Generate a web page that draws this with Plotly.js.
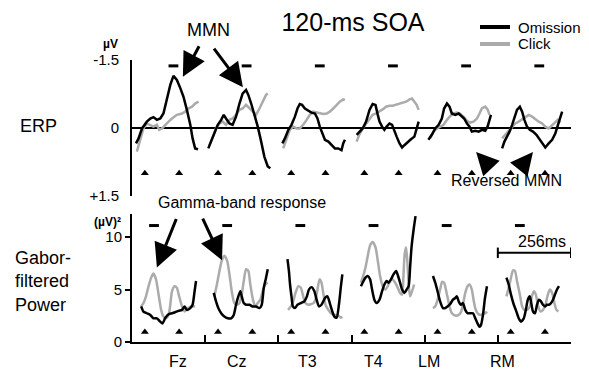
<!DOCTYPE html>
<html><head><meta charset="utf-8">
<script src="https://cdn.plot.ly/plotly-3.0.1.min.js"></script>
<style>html,body{margin:0;padding:0;background:#fff}#chart{width:589px;height:372px}</style>
</head><body><div id="chart"></div>
<script>
// ---------- DATA ----------
const electrodes = ['Fz','Cz','T3','T4','LM','RM'];
const stimTimes = [0, 120];          // ms, stimulus onsets within each epoch
const erpSigTimes = [100,100,100,100,100,100];
const gaborSigTimes = [32,32,32,32,32,32];
const erpTicks = ['-1.5','0','+1.5'];
const gaborTicks = ['0','5','10'];

// ERP  [time ms, amplitude µV]
const fzErpOm = [[-31,0.34],[-22,0.23],[-10,0.01],[7,-0.14],[19,-0.21],[30,-0.24],[42,-0.18],[54,-0.21],[65,-0.32],[77,-0.62],[89,-0.95],[100,-1.15],[112,-1.06],[124,-0.88],[135,-0.69],[147,-0.40],[159,-0.07],[167,0.23],[176,0.45],[186,0.47]];
const fzErpCl = [[-28,0.52],[-16,0.26],[-5,0.01],[7,-0.10],[19,-0.07],[30,-0.03],[42,-0.07],[50,0.04],[60,0.01],[71,-0.07],[83,-0.14],[95,-0.21],[112,-0.29],[130,-0.32],[141,-0.36],[153,-0.43],[165,-0.47],[176,-0.54],[188,-0.58]];
const czErpOm = [[-34,0.45],[-25,0.30],[-13,0.12],[-1,-0.07],[11,-0.18],[20,-0.29],[28,-0.21],[40,-0.10],[51,-0.07],[63,-0.25],[75,-0.54],[86,-0.76],[98,-0.84],[106,-0.73],[116,-0.54],[127,-0.32],[139,-0.03],[151,0.30],[162,0.63],[174,0.85],[183,0.89]];
const czErpCl = [[-30,0.38],[-19,0.19],[-7,0.01],[5,-0.10],[16,-0.14],[28,-0.07],[40,-0.18],[51,-0.21],[63,-0.29],[75,-0.40],[86,-0.43],[98,-0.51],[110,-0.43],[121,-0.36],[133,-0.29],[145,-0.43],[156,-0.58],[168,-0.73],[174,-0.76]];
const t3ErpOm = [[-31,0.34],[-22,0.23],[-10,0.04],[1,-0.07],[13,-0.25],[22,-0.43],[30,-0.53],[38,-0.51],[48,-0.43],[60,-0.38],[71,-0.34],[83,-0.32],[92,-0.21],[100,-0.03],[106,0.08],[118,0.26],[130,0.30],[141,0.38],[153,0.45],[165,0.45],[176,0.49],[182,0.34],[188,0.26]];
const t3ErpCl = [[-28,0.45],[-16,0.23],[-5,0.04],[7,-0.03],[19,0.01],[30,0.01],[42,-0.07],[54,-0.18],[65,-0.29],[77,-0.36],[89,-0.34],[100,-0.32],[112,-0.31],[124,-0.32],[135,-0.36],[147,-0.43],[159,-0.51],[170,-0.58],[182,-0.63],[188,-0.62]];
const t4ErpOm = [[-27,0.15],[-18,0.08],[-6,0.01],[6,-0.14],[18,-0.40],[29,-0.53],[39,-0.51],[47,-0.29],[53,-0.14],[62,-0.03],[70,0.04],[78,-0.03],[88,-0.10],[97,-0.07],[105,0.08],[113,0.19],[123,0.34],[132,0.43],[140,0.38],[152,0.30],[163,0.25],[175,0.19],[183,0.04],[190,-0.14]];
const t4ErpCl = [[-27,0.30],[-18,0.15],[-6,0.01],[6,-0.10],[18,-0.21],[29,-0.29],[41,-0.32],[53,-0.36],[64,-0.41],[76,-0.47],[88,-0.49],[99,-0.49],[111,-0.51],[123,-0.53],[134,-0.56],[146,-0.58],[158,-0.63],[167,-0.65],[175,-0.58],[183,-0.51],[190,-0.40]];
const lmErpOm = [[-32,0.26],[-20,0.15],[-8,0.01],[4,-0.07],[15,-0.21],[23,-0.43],[33,-0.54],[42,-0.47],[50,-0.32],[62,-0.29],[74,-0.32],[85,-0.25],[93,-0.21],[103,-0.10],[112,-0.03],[120,0.08],[132,0.06],[144,0.08],[155,0.04],[167,0.06],[175,-0.03],[182,-0.18],[187,-0.29]];
const lmErpCl = [[-26,0.23],[-14,0.08],[-2,0.01],[9,-0.03],[21,-0.07],[33,-0.18],[44,-0.26],[56,-0.32],[68,-0.34],[79,-0.31],[91,-0.25],[103,-0.16],[114,-0.12],[126,-0.14],[138,-0.21],[147,-0.32],[155,-0.43],[167,-0.47],[175,-0.41],[182,-0.29]];
const rmErpOm = [[-30,0.45],[-22,0.30],[-13,0.19],[-4,0.08],[5,-0.07],[13,-0.25],[22,-0.40],[32,-0.47],[40,-0.36],[48,-0.18],[57,-0.03],[67,0.04],[78,0.08],[90,0.15],[102,0.26],[113,0.38],[121,0.43],[133,0.34],[145,0.26],[156,0.12],[165,-0.07],[174,-0.25],[180,-0.36]];
const rmErpCl = [[-30,0.23],[-19,0.15],[-7,0.08],[5,-0.03],[16,-0.10],[28,-0.14],[40,-0.19],[51,-0.25],[63,-0.29],[75,-0.25],[86,-0.19],[98,-0.14],[110,-0.10],[121,-0.03],[133,0.01],[145,-0.07],[156,-0.14],[165,-0.18],[174,-0.12]];

// Gabor-filtered power [time ms, (µV)^2]
const fzGabOm = [[-13,3.39],[-5,2.90],[7,2.74],[19,2.58],[30,2.26],[42,2.26],[54,1.94],[62,1.77],[71,2.26],[83,2.65],[95,2.74],[106,2.84],[118,2.97],[130,3.06],[139,3.39],[147,3.06],[159,3.23],[167,3.55],[174,4.84],[179,5.81]];
const fzGabCl = [[-13,3.39],[-5,3.71],[4,4.35],[13,5.32],[22,6.13],[30,6.52],[39,5.97],[48,4.52],[57,3.06],[65,2.42],[74,2.26],[83,2.58],[89,3.55],[95,4.84],[104,5.32],[112,5.16],[120,4.35],[130,3.39],[139,2.90],[151,3.23],[162,3.39],[176,3.39]];
const czGabOm = [[-15,4.68],[-7,3.87],[1,3.23],[11,2.74],[22,2.42],[34,2.26],[46,2.26],[55,2.58],[63,3.55],[71,4.35],[78,4.84],[83,4.35],[90,3.71],[98,3.55],[110,3.55],[121,3.39],[133,3.39],[145,3.23],[153,3.55],[160,5.16],[168,6.13],[174,6.94]];
const czGabCl = [[-13,4.35],[-4,5.48],[5,6.77],[13,7.74],[22,8.23],[32,7.74],[40,6.45],[48,4.84],[57,3.71],[67,3.55],[75,3.71],[83,4.52],[90,5.81],[98,6.94],[106,6.77],[113,5.48],[121,4.19],[130,3.39],[139,3.71],[148,4.03],[156,4.84],[165,5.48],[174,5.65]];
const t3GabOm = [[-13,7.90],[-8,6.77],[-4,5.48],[1,4.35],[6,3.39],[13,3.23],[22,3.55],[34,3.71],[46,3.87],[55,4.35],[62,5.00],[71,5.23],[81,4.84],[89,4.03],[97,3.39],[106,3.55],[118,4.19],[127,4.35],[135,3.71],[144,2.90],[151,2.42],[159,2.32],[167,3.55],[174,5.32],[179,6.45]];
const t3GabCl = [[-11,3.06],[-1,3.39],[7,3.87],[15,4.68],[25,5.32],[34,5.16],[42,4.35],[50,3.71],[60,3.55],[69,3.61],[78,3.71],[85,4.03],[92,5.00],[99,5.97],[106,5.65],[113,4.52],[120,3.55],[130,3.06],[139,2.74],[151,2.58],[162,2.58],[174,2.32],[179,2.42]];
const t4GabOm = [[-12,5.32],[-6,5.65],[4,6.13],[12,6.29],[20,5.97],[27,5.00],[35,4.03],[43,3.71],[53,4.03],[62,4.84],[70,5.48],[78,5.81],[85,5.65],[93,5.97],[102,6.45],[111,6.77],[118,6.29],[125,5.65],[132,5.00],[140,4.68],[148,5.00],[155,5.32],[160,7.10],[165,9.03],[172,10.65],[179,12.0]];
const t4GabCl = [[-12,5.65],[-6,6.13],[4,7.10],[12,8.23],[20,9.19],[29,9.52],[39,9.03],[47,7.74],[55,6.29],[64,5.32],[74,5.00],[82,5.32],[90,5.81],[99,5.97],[108,5.65],[117,5.16],[125,4.68],[132,4.52],[137,6.45],[141,8.39],[146,9.03],[151,7.42],[155,5.48],[160,4.35],[167,4.84],[174,5.48]];
const lmGabOm = [[-16,6.29],[-8,5.65],[0,4.84],[9,3.87],[19,3.23],[27,3.23],[35,3.39],[44,3.61],[54,4.03],[62,4.19],[68,4.35],[74,3.87],[82,3.55],[89,3.71],[97,3.06],[105,2.74],[114,2.74],[124,2.74],[132,2.26],[140,1.77],[147,1.45],[152,1.61],[159,2.58],[166,4.19],[173,5.32]];
const lmGabCl = [[-16,3.23],[-8,3.39],[0,4.03],[9,5.00],[16,5.74],[23,5.65],[33,4.52],[42,3.39],[50,2.74],[62,2.52],[74,2.58],[82,2.84],[89,3.55],[97,4.68],[105,5.32],[112,5.48],[120,5.00],[126,4.03],[132,3.23],[140,2.74],[149,2.58],[159,2.65],[167,2.74],[173,2.90]];
const rmGabOm = [[-15,6.13],[-7,5.48],[1,4.52],[11,3.55],[20,2.90],[28,2.26],[36,1.94],[46,2.26],[53,3.06],[60,4.03],[67,4.35],[71,3.87],[78,2.90],[85,2.74],[92,3.55],[99,4.03],[106,3.87],[113,3.55],[120,3.39],[127,3.55],[134,3.55],[141,3.71],[148,4.03],[155,4.52],[162,5.00],[169,5.32]];
const rmGabCl = [[-15,4.35],[-7,5.16],[1,6.13],[8,6.84],[15,6.77],[22,5.81],[32,4.52],[40,3.39],[48,3.06],[57,3.06],[67,3.39],[74,4.35],[81,4.84],[88,4.52],[95,3.55],[104,2.90],[113,3.06],[123,3.71],[130,4.52],[137,5.00],[145,4.68],[153,3.71],[160,3.06],[167,2.90]];

const erpOmission = [fzErpOm, czErpOm, t3ErpOm, t4ErpOm, lmErpOm, rmErpOm];
const erpClick    = [fzErpCl, czErpCl, t3ErpCl, t4ErpCl, lmErpCl, rmErpCl];
const gabOmission = [fzGabOm, czGabOm, t3GabOm, t4GabOm, lmGabOm, rmGabOm];
const gabClick    = [fzGabCl, czGabCl, t3GabCl, t4GabCl, lmGabCl, rmGabCl];

// ---------- LAYOUT HELPERS ----------
const EPOCH = 256;   // ms allotted to each electrode panel
const ONSET = 45;    // ms from panel start to first stimulus
const X0 = ONSET;
const ML = 132, MR = 18, MT = 60, MB = 30, W = 589, H = 372;
const PW = W - ML - MR, PH = H - MT - MB;
const px = x => (x - ML) / PW;
const py = y => (H - MB - y) / PH;
const FONT = 'Liberation Sans, Arial, Helvetica, sans-serif';
const BLACK = '#000000', GRAY = '#ababab';

const traces = [];
function addLine(i, pts, ax, color, spline) {
  traces.push({
    type: 'scatter', mode: 'lines', xaxis: 'x', yaxis: ax,
    x: pts.map(p => i * EPOCH + X0 + p[0]), y: pts.map(p => p[1]),
    line: {color: color, width: 2.5, shape: spline ? 'spline' : 'linear', smoothing: 0.6},
    hoverinfo: 'skip', showlegend: false
  });
}
electrodes.forEach((e, i) => {
  addLine(i, erpClick[i], 'y', GRAY, false);
  addLine(i, erpOmission[i], 'y', BLACK, false);
  addLine(i, gabClick[i], 'y2', GRAY, true);
  addLine(i, gabOmission[i], 'y2', BLACK, true);
});
// stimulus triangles
const triX = [], triYerp = [], triYgab = [];
electrodes.forEach((e, i) => stimTimes.forEach(t => { triX.push(i * EPOCH + X0 + t); triYerp.push(1.0); triYgab.push(0.95); }));
traces.push({type:'scatter', mode:'markers', x: triX, y: triYerp, yaxis:'y', marker:{symbol:'triangle-up', size:7, color:BLACK}, hoverinfo:'skip', showlegend:false});
traces.push({type:'scatter', mode:'markers', x: triX, y: triYgab, yaxis:'y2', marker:{symbol:'triangle-up', size:7, color:BLACK}, hoverinfo:'skip', showlegend:false});
// significance dashes
traces.push({type:'scatter', mode:'markers', x: erpSigTimes.map((t,i)=>i*EPOCH+X0+t), y: erpSigTimes.map(()=>-1.37), yaxis:'y', marker:{symbol:'line-ew', size:7, line:{width:3, color:BLACK}}, hoverinfo:'skip', showlegend:false});
traces.push({type:'scatter', mode:'markers', x: gaborSigTimes.map((t,i)=>i*EPOCH+X0+t), y: gaborSigTimes.map(()=>11.1), yaxis:'y2', marker:{symbol:'line-ew', size:7, line:{width:3, color:BLACK}}, hoverinfo:'skip', showlegend:false});

const ann = [];
function txt(x, y, text, size, opts) {
  ann.push(Object.assign({xref:'paper', yref:'paper', x: px(x), y: py(y), text: text, showarrow:false,
    font:{family: FONT, size: size, color: BLACK}, xanchor:'center', yanchor:'middle'}, opts || {}));
}
function arrow(x, y, yref, axp, ayp, w, s) {
  ann.push({xref:'x', yref: yref, x: x, y: y, ax: axp, ay: ayp, text:'', showarrow:true,
    arrowhead: 2, arrowsize: s, arrowwidth: w, arrowcolor: BLACK, standoff: 0});
}
txt(208, 30, 'MMN', 18);
arrow(178, -1.13, 'y', 17, -32, 3, 1.6);
arrow(388, -0.90, 'y', -30, -40, 3, 1.6);
txt(242, 202, 'Gamma-band response', 16);
arrow(87, 7.1, 'y2', 20, -50, 3, 1.6);
arrow(315, 7.8, 'y2', -20, -43, 3, 1.6);
txt(506, 180, 'Reversed MMN', 16);
arrow(1204, 0.53, 'y', 14, 15, 3, 1.5);
arrow(1403, 0.53, 'y', -13, 16, 3, 1.5);
txt(542, 242, '256ms', 16);
txt(38, 126, 'ERP', 18);
txt(13, 281, 'Gabor-<br>filtered<br>Power', 18, {xanchor:'left', align:'left'});
txt(110, 44, '<b>µV</b>', 12);
txt(107, 222, '<b>(µV)²</b>', 12);
txt(516, 27, 'Omission', 15, {xanchor:'left'});
txt(516, 44, 'Click', 15, {xanchor:'left'});
// electrode labels
const labelPx = [178, 237, 307, 373, 429, 502];
electrodes.forEach((e, i) => txt(labelPx[i], 361, e, 16));

const shapes = [
  {type:'line', xref:'paper', yref:'paper', x0:px(480), x1:px(510), y0:py(27), y1:py(27), line:{color:BLACK, width:4}},
  {type:'line', xref:'paper', yref:'paper', x0:px(480), x1:px(510), y0:py(44), y1:py(44), line:{color:GRAY, width:4}},
  // 256 ms scale bar
  {type:'line', xref:'x', yref:'y2', x0:5*EPOCH, x1:6*EPOCH, y0:8.5, y1:8.5, line:{color:BLACK, width:2}},
  {type:'line', xref:'x', yref:'y2', x0:5*EPOCH, x1:5*EPOCH, y0:8.0, y1:9.0, line:{color:BLACK, width:2}},
  {type:'line', xref:'x', yref:'y2', x0:6*EPOCH, x1:6*EPOCH, y0:8.0, y1:9.0, line:{color:BLACK, width:2}}
];

const layout = {
  width: W, height: H, margin:{l:ML, r:MR, t:MT, b:MB, pad:0},
  paper_bgcolor:'#fff', plot_bgcolor:'#fff', showlegend:false,
  font:{family: FONT, color: BLACK, size: 15},
  title:{text:'120-ms SOA', x: px(353), xref:'paper', xanchor:'center', y: 1 - 22/H, yref:'container', yanchor:'middle', font:{family: FONT, size: 25, color: BLACK}},
  xaxis:{range:[0, 6*EPOCH], anchor:'y2', showline:true, linewidth:2, linecolor:BLACK, showgrid:false, zeroline:false,
         ticks:'inside', tickvals:[1,2,3,4,5].map(k=>k*EPOCH), ticklen:7, tickwidth:2, tickcolor:BLACK, showticklabels:false, fixedrange:true},
  yaxis:{domain:[1-136/PH, 1], range:[1.5, -1.5], tickvals:[-1.5, 0, 1.5], ticktext: erpTicks, ticks:'inside', ticklen:5, tickwidth:2, tickcolor:BLACK,
         showline:true, linewidth:2, linecolor:BLACK, showgrid:false, zeroline:true, zerolinewidth:2, zerolinecolor:BLACK,
         tickfont:{size:15}, ticklabelstandoff: 8},
  yaxis2:{domain:[0, 128/PH], range:[0, 12.2], tickvals:[0,5,10], ticktext: gaborTicks, ticks:'outside', ticklen:5, tickwidth:2, tickcolor:BLACK,
         showline:true, linewidth:2, linecolor:BLACK, showgrid:false, zeroline:false, tickfont:{size:15}, anchor:'x'},
  annotations: ann, shapes: shapes
};
Plotly.newPlot('chart', traces, layout, {displayModeBar:false, staticPlot:true});
</script></body></html>
